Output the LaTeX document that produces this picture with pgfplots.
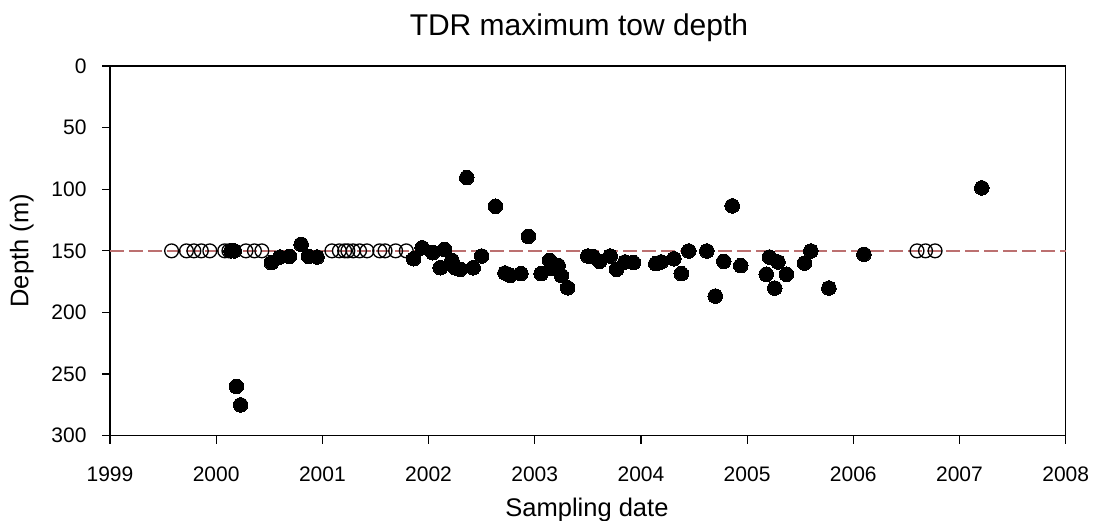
\documentclass[border=0pt]{standalone}
\usepackage{fontspec}
\setmainfont{Liberation Sans}
\usepackage{pgfplots}
\pgfplotsset{compat=1.18}
\definecolor{refline}{RGB}{188,112,112}
\begin{document}
\begin{tikzpicture}
\path[use as bounding box] (-110pt,-84.3pt) rectangle (990pt,435.7pt);
\begin{axis}[
  at={(0pt,0pt)}, anchor=south west,
  scale only axis, width=955.7pt, height=369.7pt,
  xmin=1999, xmax=2008, ymin=0, ymax=300,
  y dir=reverse,
  xtick={1999,2000,...,2008},
  ytick={0,50,...,300},
  /pgf/number format/1000 sep={},
  /pgf/number format/assume math mode=true,
  tick align=outside, major tick length=8pt,
  xtick pos=bottom, ytick pos=left,
  axis line style={line width=1.3pt},
  every tick/.style={line width=1.2pt, black},
  tick label style={font=\fontsize{21}{25}\selectfont},
  xticklabel style={anchor=base, yshift=-37.3pt},
  yticklabel style={anchor=east, xshift=-12pt},
  title={TDR maximum tow depth},
  title style={font=\fontsize{30}{34}\selectfont, at={(axis description cs:0.4907,1.0657)}, anchor=base},
  xlabel={Sampling date},
  xlabel style={font=\fontsize{25.5}{30}\selectfont, at={(axis description cs:0.4991,-0.2191)}, anchor=base},
  ylabel={Depth (m)},
  ylabel style={font=\fontsize{25.5}{30}\selectfont, at={(axis description cs:-0.0855,0.5)}, rotate=0, anchor=base},
  clip=false,
]
\addplot[refline, line width=1.8pt, dash pattern=on 14pt off 5pt] coordinates {(1999,150) (2008,150)};
\addplot[only marks, mark=o, mark size=6.9pt, mark options={black, line width=1.3pt, fill=none}] coordinates {
(1999.58,150) (1999.72,150) (1999.79,150) (1999.86,150) (1999.94,150)
(2000.08,150) (2000.12,150) (2000.28,150) (2000.36,150) (2000.43,150)
(2001.09,150) (2001.16,150) (2001.21,150) (2001.24,150) (2001.29,150)
(2001.35,150) (2001.42,150) (2001.54,150) (2001.59,150) (2001.69,150)
(2001.79,150) (2006.60,150) (2006.68,150) (2006.77,150)
};
\addplot[only marks, mark=*, mark size=7.3pt, mark options={black, fill=black, line width=0pt}] coordinates {
(2000.14,150) (2000.17,150) (2000.19,260) (2000.23,275)
(2000.52,159.6) (2000.60,155) (2000.69,154.5) (2000.80,144.7) (2000.87,154.5) (2000.95,155)
(2001.86,156.4) (2001.94,147.5)
(2002.04,151.5) (2002.11,163.7) (2002.15,148.8) (2002.22,157.7) (2002.25,163.7) (2002.30,165)
(2002.36,90.5) (2002.42,163.7) (2002.50,154.2) (2002.63,113.8) (2002.72,168) (2002.77,170)
(2002.87,168.5) (2002.94,138.2)
(2003.06,168.5) (2003.14,157.7) (2003.16,164) (2003.22,161.8) (2003.25,170) (2003.31,180)
(2003.50,154.2) (2003.55,154.5) (2003.61,158.5) (2003.71,154.2) (2003.77,165) (2003.85,159) (2003.93,159.6)
(2004.14,160.4) (2004.19,159) (2004.31,156.4) (2004.38,168.5) (2004.45,150.1) (2004.62,150.1)
(2004.70,186.7) (2004.78,158.5) (2004.86,113.5) (2004.94,162)
(2005.18,169) (2005.21,155) (2005.26,180.2) (2005.29,159) (2005.37,169) (2005.54,159.9)
(2005.60,150.1) (2005.77,180.2)
(2006.10,152.8) (2007.21,98.9)
};
\end{axis}
\end{tikzpicture}
\end{document}
